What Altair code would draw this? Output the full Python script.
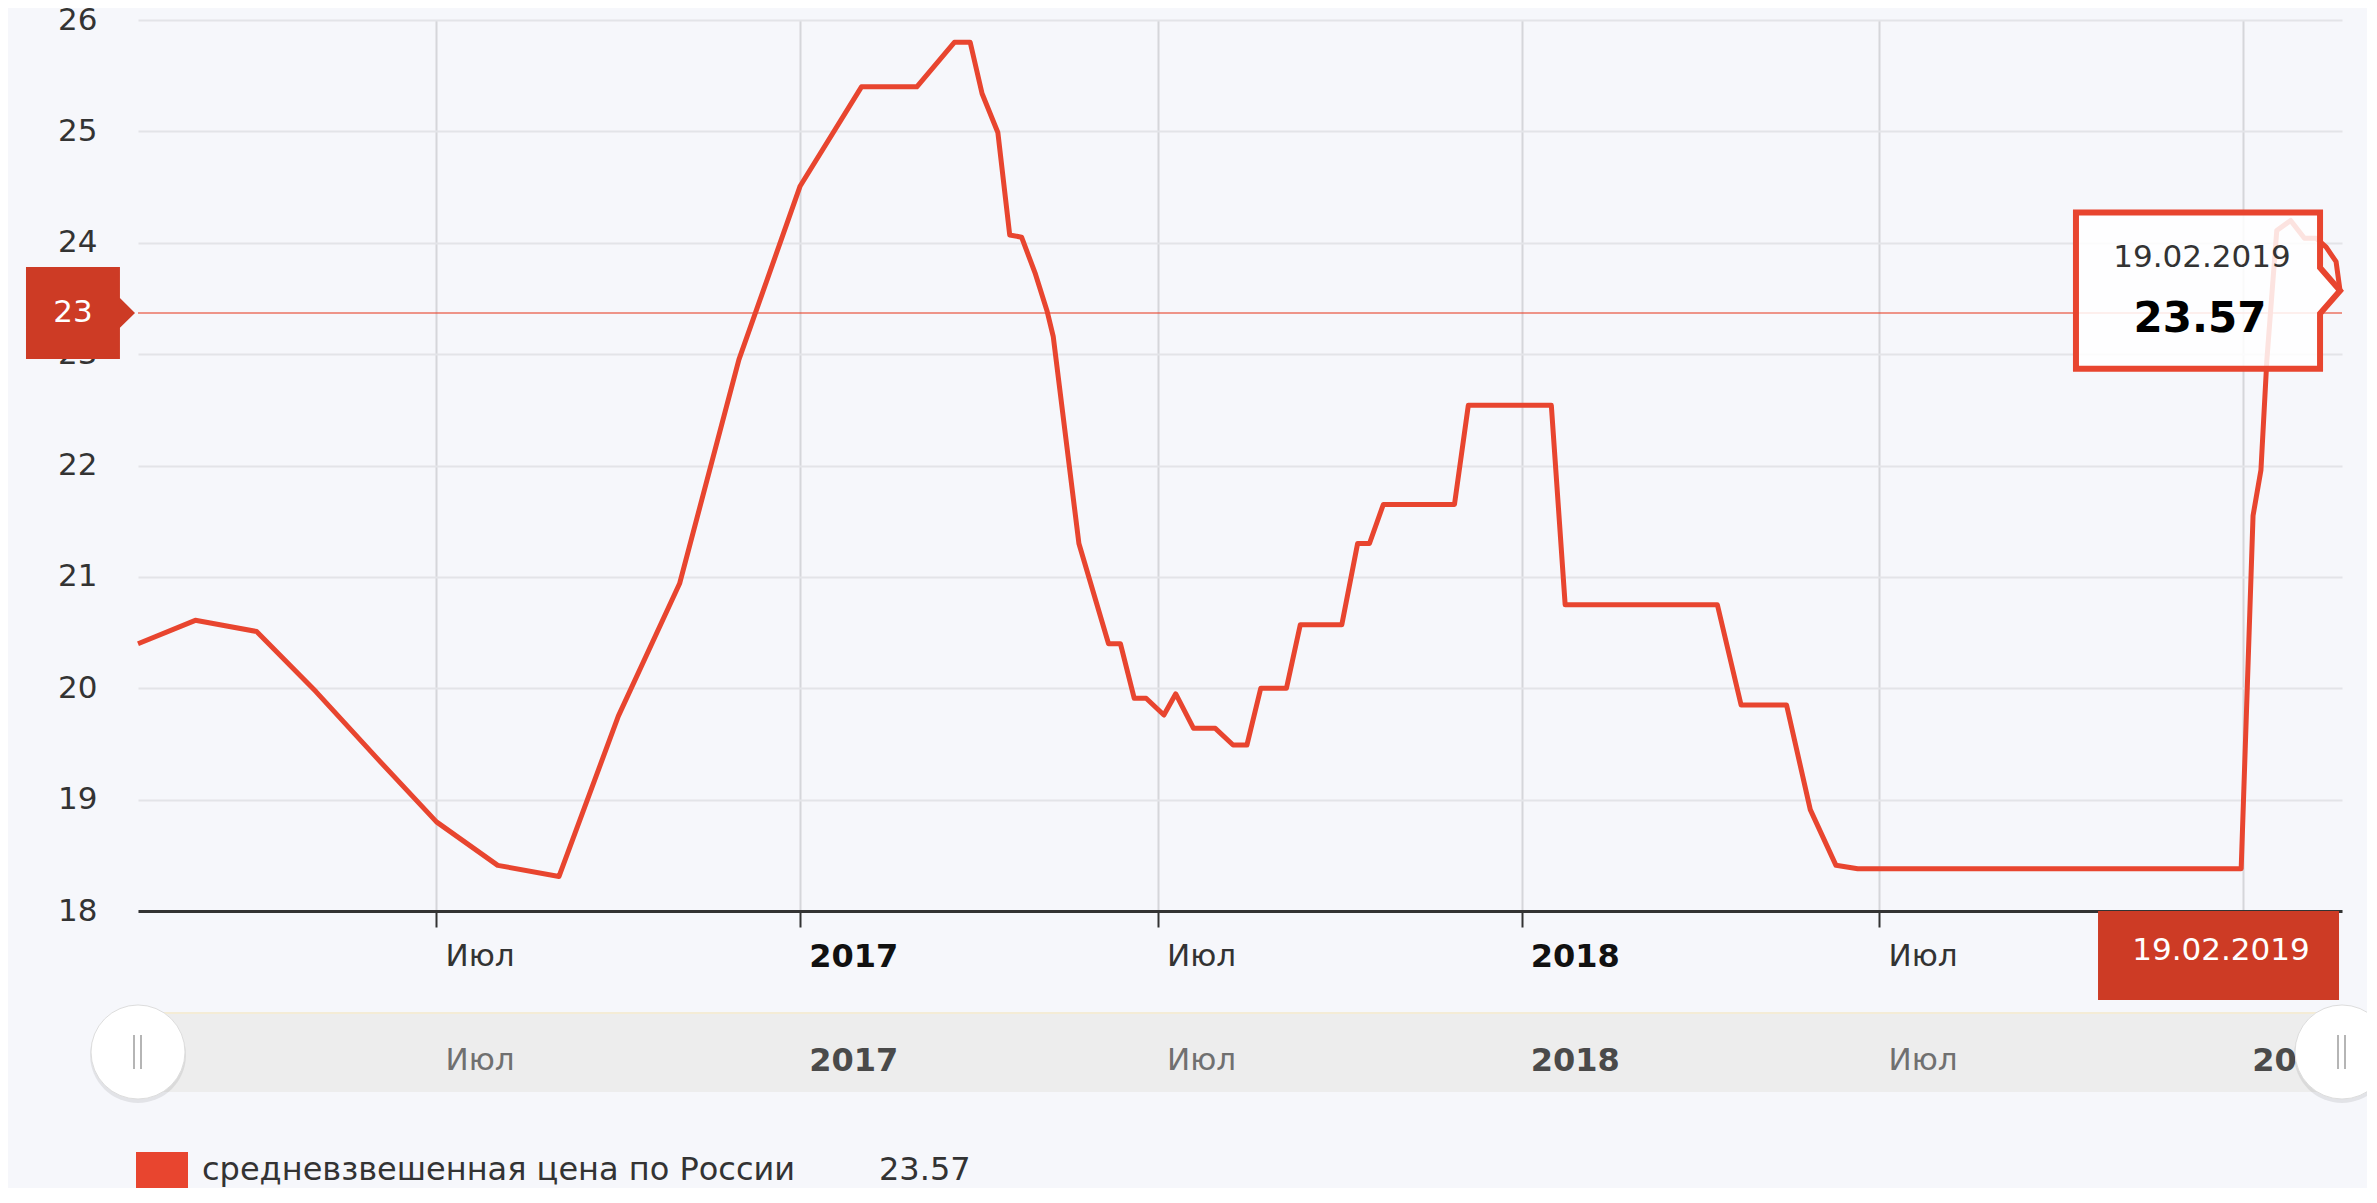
import altair as alt
import pandas as pd

# ---------------- data ----------------
SERIES_NAME = "средневзвешенная цена по России"

dates = [
    "2016-02-01", "2016-03-01", "2016-04-01", "2016-05-01", "2016-06-01",
    "2016-07-01", "2016-08-01", "2016-09-01", "2016-10-01", "2016-11-01",
    "2016-12-01", "2017-01-01", "2017-02-01", "2017-03-01", "2017-03-20",
    "2017-03-28", "2017-04-03", "2017-04-11", "2017-04-17", "2017-04-23",
    "2017-04-30", "2017-05-06", "2017-05-09", "2017-05-22", "2017-06-06",
    "2017-06-12", "2017-06-19", "2017-06-25", "2017-07-04", "2017-07-10",
    "2017-07-19", "2017-07-30", "2017-08-08", "2017-08-15", "2017-08-22",
    "2017-09-04", "2017-09-11", "2017-10-02", "2017-10-10", "2017-10-16",
    "2017-10-23", "2017-11-28", "2017-12-05", "2018-01-16", "2018-01-23",
    "2018-04-10", "2018-04-22", "2018-05-15", "2018-05-27", "2018-06-09",
    "2018-06-20", "2018-12-31", "2019-01-06", "2019-01-10", "2019-01-13",
    "2019-01-18", "2019-01-25", "2019-02-01", "2019-02-07", "2019-02-12",
    "2019-02-17", "2019-02-19",
]
values = [
    20.40, 20.61, 20.51, 19.97, 19.37,
    18.80, 18.41, 18.31, 19.75, 20.94,
    22.95, 24.51, 25.40, 25.40, 25.80,
    25.80, 25.34, 24.99, 24.07, 24.05,
    23.72, 23.38, 23.16, 21.30, 20.40,
    20.40, 19.91, 19.91, 19.76, 19.95,
    19.64, 19.64, 19.49, 19.49, 20.00,
    20.00, 20.57, 20.57, 21.30, 21.30,
    21.65, 21.65, 22.54, 22.54, 20.75,
    20.75, 19.85, 19.85, 18.91, 18.41,
    18.38, 18.38, 21.55, 21.96, 22.95,
    24.11, 24.20, 24.04, 24.04, 23.96,
    23.83, 23.57,
]

tick_dates = ["2016-07-01", "2017-01-01", "2017-07-01", "2018-01-01", "2018-07-01", "2019-01-01"]
tick_labels = ["Июл", "2017", "Июл", "2018", "Июл", "2019"]
y_ticks = [18, 19, 20, 21, 22, 23, 24, 25, 26]
crosshair_value = [23.37]

# ---------------- style / layout ----------------
RED = "#e8452f"
DARK_RED = "#cd3b25"
BG = "#f6f7fb"
FONT = "DejaVu Sans"
W, H = 2204, 891

df = pd.DataFrame({"date": pd.to_datetime(dates), "value": values})
last = df.tail(1).copy()
ticks = pd.DataFrame({
    "date": pd.to_datetime(tick_dates),
    "label": tick_labels,
    "year": [1 if l.isdigit() else 0 for l in tick_labels],
})
cross = pd.DataFrame({"value": crosshair_value})
one = pd.DataFrame({"k": [0]})
legend_df = pd.DataFrame({"name": [SERIES_NAME], "value": [values[-1]]})

axis_values = [
    alt.DateTime(year=int(d[:4]), month=int(d[5:7]), date=int(d[8:10]))
    for d in tick_dates
]

x_scale = alt.Scale(domain=[alt.DateTime(year=2016, month=2, date=1),
                            alt.DateTime(year=2019, month=2, date=20)])
y_scale = alt.Scale(domain=[18, 26], nice=False, zero=False)

X = alt.X("date:T", scale=x_scale, title=None,
          axis=alt.Axis(values=axis_values, labels=False, grid=True,
                        gridColor="#d5d6da", gridWidth=2,
                        domainColor="#333333", domainWidth=3,
                        tickColor="#333333", tickWidth=2, tickSize=16))
Y = alt.Y("value:Q", scale=y_scale, title=None,
          axis=alt.Axis(values=y_ticks, grid=True, gridColor="#e3e4e8", gridWidth=2,
                        domain=False, ticks=False, tickSize=0, labelPadding=41,
                        labelFontSize=31, labelColor="#333333", labelFont=FONT))

TIP_PATH = ("M -0.978 -0.289 L -0.074 -0.289 L -0.074 -0.085 L 0 0 "
            "L -0.074 0.085 L -0.074 0.289 L -0.978 0.289 Z")
YLAB_PATH = ("M -0.974 -0.4 L -0.157 -0.4 L -0.157 -0.13 L -0.026 0 "
             "L -0.157 0.13 L -0.157 0.4 L -0.974 0.4 Z")

layers = []

# crosshair line
layers.append(alt.Chart(cross).mark_rule(color=RED, strokeWidth=1.5, opacity=0.75)
              .encode(y=Y))

# main series
layers.append(alt.Chart(df).mark_line(color=RED, strokeWidth=5, strokeJoin="round")
              .encode(x=X, y=Y))

# main x-axis labels (the last one is hidden under the crosshair date label)
for yr, weight, col in [(0, "normal", "#333333"), (1, "bold", "#111111")]:
    layers.append(alt.Chart(ticks)
                  .transform_filter(alt.datum.year == yr)
                  .transform_filter("year(datum.date) < 2019")
                  .mark_text(align="left", baseline="middle", dx=9,
                             fontSize=31 + yr, fontWeight=weight, color=col, font=FONT)
                  .encode(x=X, y=alt.value(937), text="label:N"))

# navigator band
layers.append(alt.Chart(one).mark_rect(color="#ededed")
              .encode(x=alt.value(0), x2=alt.value(W), y=alt.value(993), y2=alt.value(1072)))
layers.append(alt.Chart(one).mark_rule(color="#f4ecd6", strokeWidth=2)
              .encode(x=alt.value(0), x2=alt.value(W), y=alt.value(993)))
for yr, weight, col in [(0, "normal", "#707070"), (1, "bold", "#4a4a4a")]:
    layers.append(alt.Chart(ticks).transform_filter(alt.datum.year == yr)
                  .mark_text(align="left", baseline="middle", dx=9,
                             fontSize=31 + yr, fontWeight=weight, color=col, font=FONT)
                  .encode(x=X, y=alt.value(1041), text="label:N"))

# navigator handles
for hx in [0, W]:
    layers.append(alt.Chart(one).mark_point(shape="circle", size=9200, filled=True,
                                            color="#000000", opacity=0.08)
                  .encode(x=alt.value(hx), y=alt.value(1035)))
    layers.append(alt.Chart(one).mark_point(shape="circle", size=8836, filled=True,
                                            fill="#ffffff", stroke="#dddddd",
                                            strokeWidth=1, opacity=1)
                  .encode(x=alt.value(hx), y=alt.value(1032)))
    for dxh in [-4, 3]:
        layers.append(alt.Chart(one).mark_rule(color="#b5b5b5", strokeWidth=2)
                      .encode(x=alt.value(hx + dxh), y=alt.value(1015), y2=alt.value(1049)))

# y crosshair label
layers.append(alt.Chart(cross).mark_point(shape=YLAB_PATH, size=52900, filled=True,
                                          fill=DARK_RED, strokeWidth=0, opacity=1)
              .encode(x=alt.value(0), y=Y))
layers.append(alt.Chart(cross).mark_text(color="#ffffff", fontSize=31, font=FONT,
                                         baseline="middle")
              .encode(x=alt.value(-65), y=Y, text=alt.Text("value:Q", format=".0f")))

# x crosshair label
layers.append(alt.Chart(last).mark_rect(color=DARK_RED, xOffset=-242, x2Offset=-1)
              .encode(x=X, x2=alt.X2("date"), y=alt.value(891), y2=alt.value(980)))
layers.append(alt.Chart(last).mark_text(color="#ffffff", fontSize=31, font=FONT,
                                        baseline="middle", dx=-119)
              .encode(x=X, y=alt.value(931), text=alt.Text("date:T", format="%d.%m.%Y")))

# tooltip
layers.append(alt.Chart(last).mark_point(shape=TIP_PATH, size=291600, filled=True,
                                         fill="#ffffff", fillOpacity=0.85,
                                         stroke=RED, strokeWidth=6, strokeOpacity=1,
                                         opacity=1)
              .encode(x=X, y=Y))
layers.append(alt.Chart(last).mark_text(color="#333333", fontSize=31, font=FONT,
                                        baseline="middle", dx=-138, dy=-33)
              .encode(x=X, y=Y, text=alt.Text("date:T", format="%d.%m.%Y")))
layers.append(alt.Chart(last).mark_text(color="#000000", fontSize=42, font=FONT,
                                        fontWeight="bold", baseline="middle",
                                        dx=-140, dy=28)
              .encode(x=X, y=Y, text=alt.Text("value:Q", format=".2f")))

# legend
layers.append(alt.Chart(one).mark_rect(color=RED)
              .encode(x=alt.value(-2), x2=alt.value(50), y=alt.value(1132), y2=alt.value(1200)))
layers.append(alt.Chart(legend_df).mark_text(align="left", baseline="middle", fontSize=32,
                                             color="#333333", font=FONT)
              .encode(x=alt.value(64), y=alt.value(1150), text="name:N"))
layers.append(alt.Chart(legend_df).mark_text(align="left", baseline="middle", fontSize=32,
                                             color="#333333", font=FONT)
              .encode(x=alt.value(741), y=alt.value(1150),
                      text=alt.Text("value:Q", format=".2f")))

chart = (
    alt.layer(*layers)
    .properties(
        width=W, height=H, background=BG,
        autosize=alt.AutoSizeParams(type="none"),
        padding={"left": 130, "top": 12, "right": 25, "bottom": 277},
    )
    .configure_view(stroke=None)
    .configure_axis(labelFont=FONT)
)

chart.save("out.html", embed_options={"renderer": "svg", "actions": False})
